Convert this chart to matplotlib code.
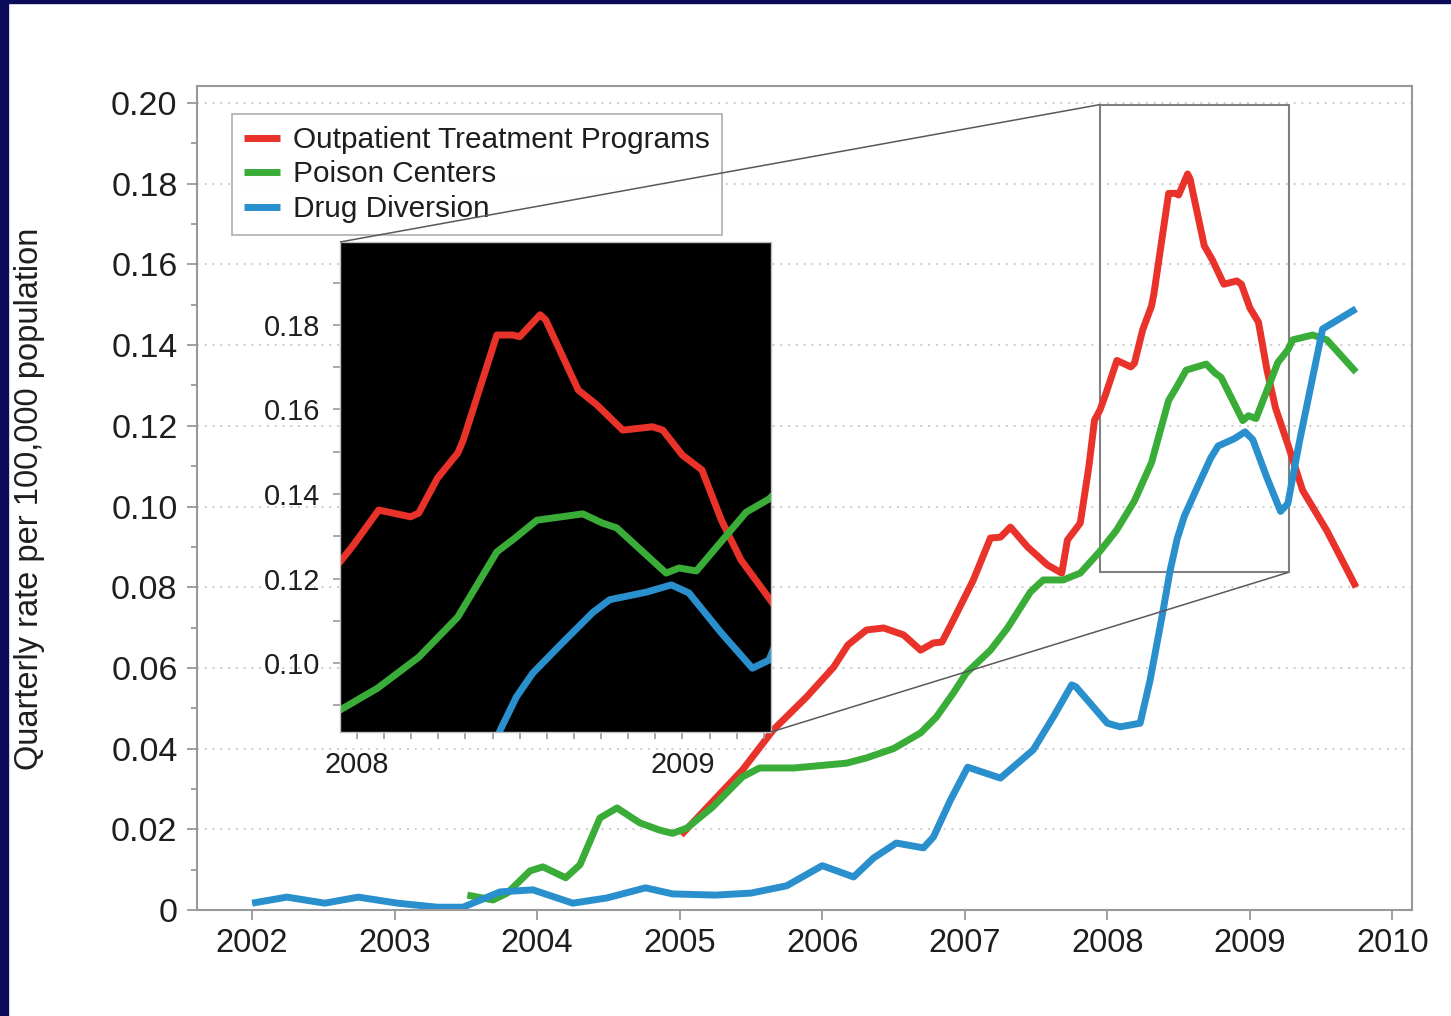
import matplotlib
matplotlib.use("Agg")
import matplotlib.pyplot as plt
from matplotlib.patches import Rectangle
from matplotlib.ticker import MultipleLocator, FuncFormatter
from mpl_toolkits.axes_grid1.inset_locator import mark_inset

plt.rcParams['font.family'] = ['Liberation Sans', 'DejaVu Sans']

# quarterly rates per 100,000 population, by source
otp_years = [2005.01, 2005.44, 2005.655, 2005.89, 2006.08, 2006.18, 2006.31, 2006.43, 2006.57,
             2006.69, 2006.78, 2006.84, 2006.92, 2007.06, 2007.18, 2007.25, 2007.32, 2007.44,
             2007.58, 2007.68, 2007.72, 2007.81, 2007.87, 2007.91, 2007.948, 2007.99, 2008.067,
             2008.165, 2008.19, 2008.248, 2008.31, 2008.327, 2008.43, 2008.48, 2008.50, 2008.563,
             2008.58, 2008.68, 2008.737, 2008.817, 2008.908, 2008.94, 2009.0, 2009.06, 2009.12,
             2009.18, 2009.266, 2009.37, 2009.54, 2009.745]
otp_rate = [0.0186, 0.0347, 0.0446, 0.0528, 0.0602, 0.0657, 0.0694, 0.0699, 0.0682,
            0.0644, 0.0662, 0.0664, 0.0719, 0.0818, 0.0922, 0.0924, 0.0949, 0.0900,
            0.0855, 0.0835, 0.0917, 0.0959, 0.1098, 0.1214, 0.1239, 0.1280, 0.1362,
            0.1346, 0.1355, 0.1438, 0.1497, 0.1528, 0.1776, 0.1776, 0.1772, 0.1824,
            0.1812, 0.1646, 0.1611, 0.1551, 0.1559, 0.1551, 0.1492, 0.1457, 0.1338,
            0.1244, 0.1154, 0.1040, 0.0940, 0.0800]

pc_years = [2003.51, 2003.69, 2003.79, 2003.95, 2004.04, 2004.2, 2004.3, 2004.44, 2004.56,
            2004.72, 2004.86, 2004.95, 2005.05, 2005.23, 2005.44, 2005.56, 2005.80, 2006.17,
            2006.31, 2006.5, 2006.69, 2006.80, 2006.92, 2007.01, 2007.18, 2007.30, 2007.46,
            2007.55, 2007.69, 2007.81, 2007.948, 2008.064, 2008.19, 2008.31, 2008.43, 2008.486,
            2008.553, 2008.694, 2008.755, 2008.798, 2008.95, 2008.99, 2009.043, 2009.196,
            2009.266, 2009.30, 2009.44, 2009.54, 2009.745]
pc_rate = [0.0037, 0.0025, 0.0042, 0.0097, 0.0107, 0.0080, 0.0112, 0.0228, 0.0253,
           0.0216, 0.0198, 0.0190, 0.0203, 0.0255, 0.0330, 0.0352, 0.0352, 0.0364,
           0.0377, 0.0400, 0.0439, 0.0478, 0.0538, 0.0587, 0.0644, 0.0699, 0.0788,
           0.0818, 0.0818, 0.0835, 0.0889, 0.0941, 0.1014, 0.1109, 0.1263, 0.1296,
           0.1338, 0.1353, 0.1331, 0.1320, 0.1213, 0.1225, 0.1218, 0.1357,
           0.1388, 0.1413, 0.1425, 0.1413, 0.1333]

dd_years = [2002.0, 2002.245, 2002.51, 2002.745, 2003.02, 2003.30, 2003.48, 2003.74, 2003.97,
            2004.25, 2004.49, 2004.76, 2004.95, 2005.25, 2005.5, 2005.75, 2006.0, 2006.22,
            2006.36, 2006.52, 2006.71, 2006.78, 2006.90, 2007.02, 2007.25, 2007.48, 2007.62,
            2007.75, 2007.78, 2008.0, 2008.09, 2008.23, 2008.30, 2008.39, 2008.44, 2008.49,
            2008.54, 2008.63, 2008.725, 2008.777, 2008.89, 2008.966, 2009.02, 2009.12,
            2009.215, 2009.266, 2009.35, 2009.51, 2009.745]
dd_rate = [0.0017, 0.0032, 0.0017, 0.0032, 0.0017, 0.0007, 0.0007, 0.0045, 0.0050,
           0.0017, 0.0030, 0.0055, 0.0040, 0.0037, 0.0042, 0.0060, 0.0110, 0.0082,
           0.0129, 0.0166, 0.0154, 0.0181, 0.0273, 0.0354, 0.0327, 0.0397, 0.0478,
           0.0558, 0.0553, 0.0463, 0.0454, 0.0463, 0.0570, 0.0740, 0.0841, 0.0920,
           0.0976, 0.1047, 0.1120, 0.1150, 0.1168, 0.1185, 0.1166, 0.1071,
           0.0988, 0.1007, 0.1165, 0.1440, 0.1490]

series = [
    ("Outpatient Treatment Programs", otp_years, otp_rate, "#e8322a"),
    ("Poison Centers", pc_years, pc_rate, "#3aac38"),
    ("Drug Diversion", dd_years, dd_rate, "#2a8fcd"),
]
year_ticks = list(range(2002, 2011))

LW = 5.0
TICK_C = "0.6"
TXT_C = "#1e1e1e"
line_kw = dict(lw=LW, solid_joinstyle="round", solid_capstyle="butt")

fig = plt.figure(figsize=(14.51, 10.16), dpi=100)
fig.patch.set_facecolor("white")

# navy frame on the left and top edges
fig.patches.append(Rectangle((0, 0), 8 / 1451, 1, transform=fig.transFigure,
                             color="#0b0b5a", zorder=0))
fig.patches.append(Rectangle((0, 1 - 3 / 1016), 1, 3 / 1016, transform=fig.transFigure,
                             color="#0b0b5a", zorder=0))

ax = fig.add_axes([0.1358, 0.1043, 0.8373, 0.8110])
for name, xs, ys, c in series:
    ax.plot(xs, ys, color=c, label=name, **line_kw)

ax.set_xlim(2001.614, 2010.137)
ax.set_ylim(0, 0.2042)
ax.set_xticks(year_ticks)
ax.yaxis.set_major_locator(MultipleLocator(0.02))
ax.yaxis.set_minor_locator(MultipleLocator(0.01))
ax.yaxis.set_major_formatter(FuncFormatter(lambda v, p: "0" if abs(v) < 1e-9 else f"{v:.2f}"))
ax.tick_params(axis="both", which="major", direction="out", length=7, width=1.3,
               color=TICK_C, labelcolor=TXT_C, labelsize=23.5, pad=6)
ax.tick_params(axis="y", which="major", labelsize=24.5, pad=7)
ax.tick_params(axis="y", which="minor", direction="out", length=4, width=1.3, color=TICK_C)
ax.grid(axis="y", which="major", color="0.8", linestyle=(0, (1, 3)), lw=1.4)
ax.set_axisbelow(True)
for s in ax.spines.values():
    s.set_color(TICK_C)
    s.set_linewidth(1.5)

leg = ax.legend(loc="upper left", bbox_to_anchor=(0.0288, 0.966), borderaxespad=0,
                fontsize=21.4, frameon=True, fancybox=False, edgecolor="0.6",
                handlelength=1.2, handletextpad=0.45, labelspacing=0.22, borderpad=0.4)
leg.get_frame().set_linewidth(1.2)
for t in leg.get_texts():
    t.set_color(TXT_C)

fig.text(30 / 1451, 1 - 499 / 1016, "Quarterly rate per 100,000 population",
         rotation=90, ha="center", va="center", fontsize=23.5, color=TXT_C)

# zoomed view of 2008-2009
axins = fig.add_axes([0.2343, 0.2795, 0.2970, 0.4823])
axins.set_facecolor("black")
for name, xs, ys, c in series:
    axins.plot(xs, ys, color=c, **line_kw)
axins.set_xlim(2007.948, 2009.272)
axins.set_ylim(0.0837, 0.1996)
axins.set_xticks([2008, 2009])
axins.set_xticklabels(["2008", "2009"])
axins.xaxis.set_minor_locator(MultipleLocator(1 / 12))
axins.yaxis.set_major_locator(MultipleLocator(0.02))
axins.yaxis.set_minor_locator(MultipleLocator(0.01))
axins.yaxis.set_major_formatter(FuncFormatter(lambda v, p: f"{v:.2f}"))
axins.tick_params(axis="both", which="both", direction="out", length=5, width=1.2,
                  color=TICK_C)
axins.tick_params(axis="both", which="major", labelsize=20.8, labelcolor=TXT_C, pad=9)
for s in axins.spines.values():
    s.set_color("0.75")
    s.set_linewidth(1)

box, c1, c2 = mark_inset(ax, axins, loc1=2, loc2=4, fc="none", ec="0.45", lw=1.1)
box.set_edgecolor("0.5")
box.set_linewidth(1.5)
for c in (c1, c2):
    c.set_zorder(6)
    c.set_color("0.35")

fig.savefig("out.png", dpi=100)
